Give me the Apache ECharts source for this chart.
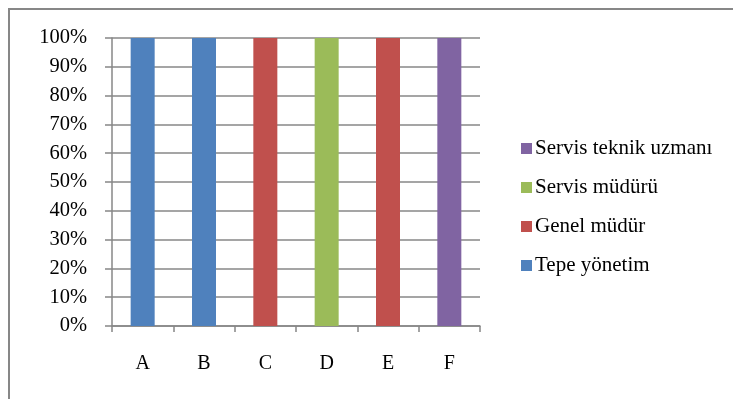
<!DOCTYPE html>
<html>
<head>
<meta charset="utf-8">
<style>
  html, body { margin: 0; padding: 0; background: #ffffff; }
  #chart { width: 733px; height: 399px; }
</style>
<script src="https://cdn.jsdelivr.net/npm/echarts@6/dist/echarts.min.js"></script>
</head>
<body>
<div id="chart"></div>
<script>
// Categories on the x axis
const categories = ['A', 'B', 'C', 'D', 'E', 'F'];

// Share (%) of each respondent group per category
const tepeYonetim = [100, 100, 0, 0, 0, 0];
const genelMudur = [0, 0, 100, 0, 100, 0];
const servisMuduru = [0, 0, 0, 100, 0, 0];
const servisTeknikUzmani = [0, 0, 0, 0, 0, 100];

// Legend order (top to bottom)
const legendOrder = ['Servis teknik uzmanı', 'Servis müdürü', 'Genel müdür', 'Tepe yönetim'];

const serif = '"Liberation Serif", "DejaVu Serif", serif';
const gridGray = '#878787';

const chart = echarts.init(document.getElementById('chart'), null, { renderer: 'canvas' });

function barSeries(name, data, color) {
  return {
    name: name,
    type: 'bar',
    stack: 'total',
    data: data,
    barWidth: 24,
    itemStyle: { color: color },
    emphasis: { disabled: true }
  };
}

chart.setOption({
  animation: false,
  backgroundColor: '#ffffff',
  graphic: [{
    type: 'rect',
    shape: { x: 9, y: 9, width: 760, height: 420 },
    style: { fill: 'none', stroke: '#878787', lineWidth: 2 },
    silent: true
  }],
  grid: { left: 112, right: 253, top: 38, bottom: 73, containLabel: false },
  legend: {
    orient: 'vertical',
    left: 521,
    top: 138,
    padding: 0,
    itemWidth: 11,
    itemHeight: 11,
    itemGap: 18,
    icon: 'rect',
    data: legendOrder,
    textStyle: { fontFamily: serif, fontSize: 21, color: '#000000', padding: [0, 0, 0, -2] }
  },
  xAxis: {
    type: 'category',
    data: categories,
    axisLine: { lineStyle: { color: gridGray, width: 1.5 } },
    axisTick: { show: true, length: 6, alignWithLabel: false, lineStyle: { color: gridGray, width: 1.5 } },
    axisLabel: { fontFamily: serif, fontSize: 20, color: '#000000', margin: 28 }
  },
  yAxis: {
    type: 'value',
    min: 0,
    max: 100,
    interval: 10,
    axisLine: { show: true, lineStyle: { color: gridGray, width: 1.5 } },
    axisTick: { show: true, length: 7, lineStyle: { color: gridGray, width: 1.5 } },
    splitLine: { show: true, lineStyle: { color: gridGray, width: 1.5 } },
    axisLabel: { fontFamily: serif, fontSize: 20.5, color: '#000000', margin: 25, formatter: '{value}%' }
  },
  series: [
    barSeries('Tepe yönetim', tepeYonetim, '#4F81BD'),
    barSeries('Genel müdür', genelMudur, '#C0504D'),
    barSeries('Servis müdürü', servisMuduru, '#9BBB59'),
    barSeries('Servis teknik uzmanı', servisTeknikUzmani, '#8064A2')
  ]
});
</script>
</body>
</html>
